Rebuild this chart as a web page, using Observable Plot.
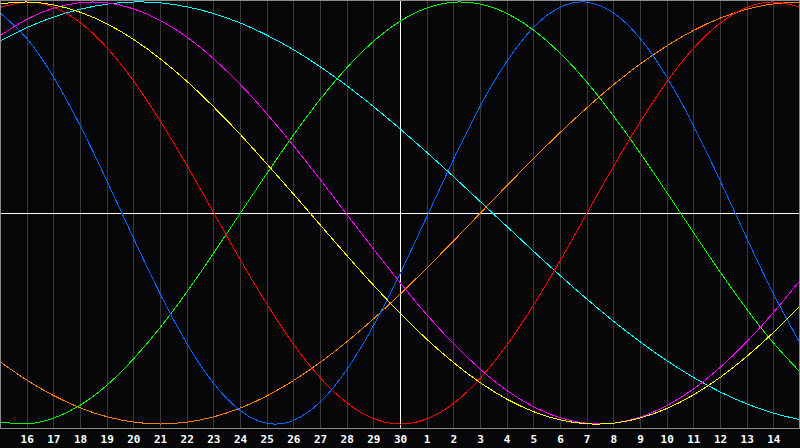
<!DOCTYPE html>
<html>
<head>
<meta charset="utf-8">
<script src="https://cdn.jsdelivr.net/npm/d3@7"></script>
<script src="https://cdn.jsdelivr.net/npm/@observablehq/plot@0.6"></script>
<style>
  html, body { margin: 0; padding: 0; background: #060608; }
  #chart svg { display: block; }
</style>
</head>
<body>
<div id="chart"></div>
<script>
// Day positions 0..30 (0 = left edge, 30 = right edge); ticks on 1..29
const dayIndex = [0,1,2,3,4,5,6,7,8,9,10,11,12,13,14,15,16,17,18,19,20,21,22,23,24,25,26,27,28,29,30];
const tickDays = [1,2,3,4,5,6,7,8,9,10,11,12,13,14,15,16,17,18,19,20,21,22,23,24,25,26,27,28,29];
const tickLabels = ["16","17","18","19","20","21","22","23","24","25","26","27","28","29","30",
                    "1","2","3","4","5","6","7","8","9","10","11","12","13","14"];

// Values (-1 .. 1) at each day position
const blue    = [0.947,0.825,0.642,0.411,0.150,-0.123,-0.386,-0.621,-0.809,-0.937,-0.997,-0.982,-0.894,-0.740,-0.531,-0.283,-0.014,0.257,0.509,0.721,0.881,0.976,0.999,0.947,0.825,0.642,0.411,0.150,-0.123,-0.386,-0.621];
const red     = [0.975,1.000,0.975,0.901,0.782,0.624,0.434,0.223,0.000,-0.223,-0.434,-0.624,-0.782,-0.901,-0.975,-1.000,-0.975,-0.901,-0.782,-0.624,-0.434,-0.223,0.000,0.223,0.434,0.624,0.782,0.901,0.975,1.000,0.975];
const green   = [-0.990,-0.999,-0.972,-0.910,-0.815,-0.690,-0.541,-0.372,-0.189,0.000,0.189,0.372,0.541,0.690,0.815,0.910,0.972,0.999,0.990,0.945,0.866,0.756,0.618,0.458,0.282,0.095,-0.095,-0.282,-0.458,-0.618,-0.756];
const yellow  = [0.992,1.000,0.986,0.951,0.896,0.822,0.730,0.623,0.502,0.371,0.231,0.088,-0.058,-0.203,-0.344,-0.477,-0.600,-0.710,-0.805,-0.883,-0.942,-0.981,-0.999,-0.996,-0.971,-0.926,-0.861,-0.778,-0.678,-0.564,-0.438];
const magenta = [0.842,0.919,0.971,0.997,0.996,0.967,0.912,0.833,0.730,0.608,0.469,0.317,0.157,-0.008,-0.173,-0.332,-0.484,-0.621,-0.741,-0.842,-0.919,-0.971,-0.997,-0.996,-0.967,-0.912,-0.833,-0.730,-0.608,-0.469,-0.317];
const cyan    = [0.816,0.879,0.929,0.966,0.990,1.000,0.996,0.977,0.945,0.900,0.842,0.773,0.692,0.602,0.503,0.397,0.286,0.171,0.053,-0.065,-0.183,-0.298,-0.409,-0.514,-0.612,-0.701,-0.780,-0.849,-0.905,-0.949,-0.980];
const orange  = [-0.707,-0.793,-0.866,-0.924,-0.966,-0.991,-1.000,-0.991,-0.966,-0.924,-0.866,-0.793,-0.707,-0.609,-0.500,-0.383,-0.259,-0.131,0.000,0.131,0.259,0.383,0.500,0.609,0.707,0.793,0.866,0.924,0.966,0.991,1.000];

const seriesList = [
  {name: "orange",  values: orange,  color: "#ff8000"},
  {name: "cyan",    values: cyan,    color: "#00ffff"},
  {name: "green",   values: green,   color: "#00ff00"},
  {name: "blue",    values: blue,    color: "#0066ff"},
  {name: "red",     values: red,     color: "#ff0000"},
  {name: "magenta", values: magenta, color: "#ff00ff"},
  {name: "yellow",  values: yellow,  color: "#ffff00"}
];

const lineMarks = seriesList.map(s =>
  Plot.line(dayIndex.map((d, i) => ({d, v: s.values[i]})), {
    x: "d", y: "v", stroke: s.color, strokeWidth: 1, curve: "natural",
    shapeRendering: "crispEdges"
  })
);

const chart = Plot.plot({
  width: 800,
  height: 448,
  marginLeft: 0,
  marginRight: 0,
  marginTop: 0,
  marginBottom: 20,
  style: {background: "#060608", color: "white", overflow: "visible"},
  x: {domain: [0, 30], axis: null},
  y: {domain: [-1, 1], insetTop: 1.5, insetBottom: 4.5, axis: null},
  marks: [
    Plot.ruleX(tickDays.filter(d => d !== 15), {stroke: "#3a3a3a", strokeWidth: 1, shapeRendering: "crispEdges"}),
    Plot.ruleX([15], {stroke: "#ffffff", strokeWidth: 1, shapeRendering: "crispEdges"}),
    Plot.ruleY([0], {stroke: "#ffffff", strokeWidth: 1, shapeRendering: "crispEdges"}),
    ...lineMarks,
    Plot.frame({stroke: "#8c8c8c", insetRight: 1, shapeRendering: "crispEdges"}),
    Plot.axisX({
      ticks: tickDays,
      tickFormat: d => tickLabels[d - 1],
      tickSize: 0,
      tickPadding: 7,
      fill: "white",
      fontSize: 11,
      fontWeight: "bold",
      fontFamily: "DejaVu Sans Mono",
      label: null
    })
  ]
});

document.getElementById("chart").appendChild(chart);
</script>
</body>
</html>
